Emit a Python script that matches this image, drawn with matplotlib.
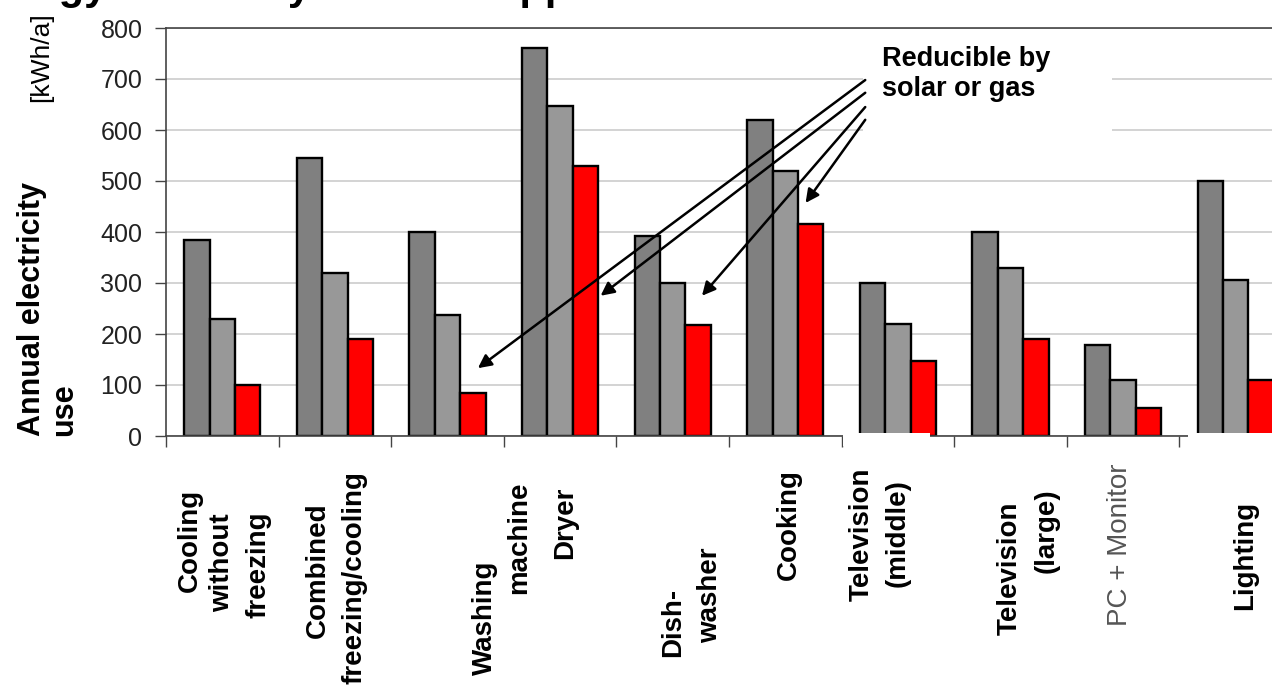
import numpy as np
import matplotlib.pyplot as plt
from matplotlib.patches import Rectangle
from matplotlib.transforms import blended_transform_factory

plt.rcParams['font.family'] = ['Liberation Sans', 'DejaVu Sans']

# data (kWh per year)
appliances = [
    ["Cooling", "without", "freezing"],
    ["Combined", "freezing/cooling"],
    ["Washing", "machine"],
    ["Dryer"],
    ["Dish-", "washer"],
    ["Cooking"],
    ["Television", "(middle)"],
    ["Television", "(large)"],
    ["PC + Monitor"],
    ["Lighting"],
]
use_dark = [385, 545, 400, 760, 392, 620, 300, 400, 178, 500]
use_light = [230, 320, 237, 647, 300, 520, 220, 330, 110, 305]
use_red = [100, 190, 84, 530, 218, 415, 147, 190, 55, 110]
y_ticks = [0, 100, 200, 300, 400, 500, 600, 700, 800]

# label line placement: (offset from group centre in px, vertical centre in px)
label_layout = [
    [(-32, 540), (0, 563), (36, 565)],
    [(-17, 570), (20, 578)],
    [(37, 618), (72, 538)],
    [(5, 523)],
    [(0, 622), (37, 595)],
    [(4, 525)],
    [(-36, 534), (0, 533)],
    [(-1, 568), (36, 531)],
    [(-3, 545)],
    [(9, 555)],
]

W, H = 1272, 691
fig = plt.figure(figsize=(W / 100, H / 100), dpi=100)
# axes runs past the right edge of the picture, like the cropped original
ax = fig.add_axes([166 / W, (H - 436) / H, 1126 / W, 408 / H])

x = np.arange(len(appliances))
bw = 0.225
edge = dict(edgecolor='black', linewidth=1.7, zorder=2)
ax.bar(x - bw, use_dark, bw, color='#808080', **edge)
ax.bar(x, use_light, bw, color='#989898', **edge)
ax.bar(x + bw, use_red, bw, color='#ff0000', **edge)

ax.set_xlim(-0.5, len(appliances) - 0.5)
ax.set_ylim(0, 800)
ax.set_yticks(y_ticks)
ax.set_yticklabels([str(v) for v in y_ticks], fontsize=18, color='#222222')
ax.tick_params(axis='y', length=8, width=1, color='#444444', pad=9)
ax.set_xticks([])
ax.set_xticks(np.arange(len(appliances) + 1) - 0.5, minor=True)
ax.tick_params(axis='x', which='minor', length=8, width=1, color='#444444')
ax.grid(axis='y', color='#cccccc', linewidth=1.2)
ax.set_axisbelow(True)
for s in ['left', 'bottom', 'top', 'right']:
    ax.spines[s].set_color('#444444')
    ax.spines[s].set_linewidth(1.2)

# category labels, each line placed on its own as in the slide
tr = blended_transform_factory(ax.transData, ax.transAxes)
for i, (lines, pos) in enumerate(zip(appliances, label_layout)):
    for line, (dx, py) in zip(lines, pos):
        regular = line.startswith("PC")
        ax.text(i + dx / 112.6, (436 - py) / 408, line, transform=tr,
                rotation=90, ha='center', va='center', fontsize=20,
                fontweight='normal' if regular else 'bold',
                color='#555555' if regular else 'black', clip_on=False)

# white patch behind the callout (covers the gridlines there)
ax.add_patch(Rectangle((5.69, 541), 2.21, 251, facecolor='white',
                       edgecolor='none', zorder=1))
ax.text(5.86, 765, "Reducible by\nsolar or gas", fontsize=19.5,
        fontweight='bold', ha='left', va='top', linespacing=1.2, zorder=4)

starts = [(5.71, 698), (5.71, 673), (5.71, 645), (5.71, 620)]
targets = [(2.27, 133), (3.36, 275), (4.26, 275), (5.18, 457)]
for s, t in zip(starts, targets):
    ax.annotate("", xy=t, xytext=s,
                arrowprops=dict(arrowstyle='-|>', color='black', lw=1.8,
                                mutation_scale=20, shrinkA=0, shrinkB=0),
                zorder=4, annotation_clip=False)

# white gaps in the baseline of the pasted slide
for x0, x1 in [(843, 930), (1188, W)]:
    fig.patches.append(Rectangle((x0 / W, (H - 446) / H), (x1 - x0) / W,
                                 13 / H, transform=fig.transFigure,
                                 facecolor='white', edgecolor='none',
                                 zorder=5))

# axis titles
fig.text(17 / W, (H - 436) / H, "Annual electricity\nuse", rotation=90,
         ha='left', va='bottom', fontsize=22, fontweight='bold',
         multialignment='left', linespacing=1.1)
fig.text(41 / W, 1 - 12 / H, "[kWh/a]", rotation=90, ha='center', va='top',
         fontsize=19)
# title cropped off the top of the picture, only descenders show
fig.text(-34 / W, 1.0 + 1 / H, "Energy efficiency of home appliances",
         ha='left', va='baseline', fontsize=30, fontweight='bold')

fig.savefig("out.png", dpi=100)
